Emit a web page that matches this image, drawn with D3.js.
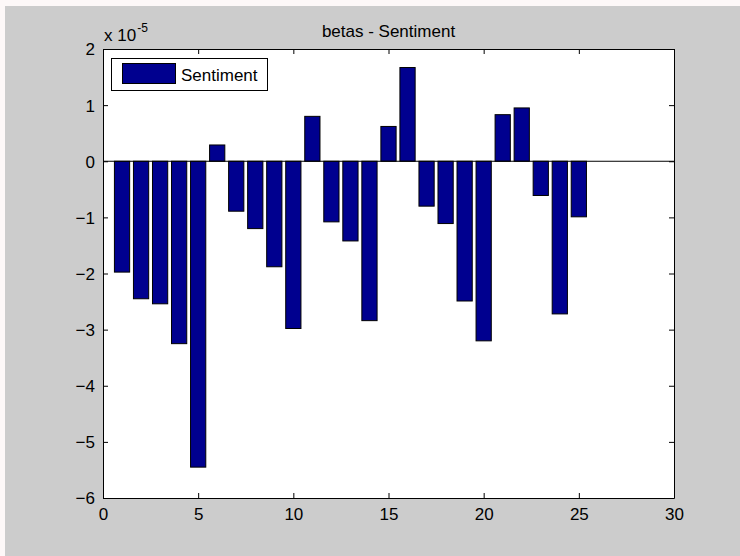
<!DOCTYPE html>
<html><head><meta charset="utf-8">
<script src="https://cdn.jsdelivr.net/npm/d3@7"></script>
<style>html,body{margin:0;padding:0;background:#cccccc;}svg{display:block;}</style>
</head><body>
<script>
const categories = d3.range(1, 26);
const values = [-1.975, -2.45, -2.54, -3.25, -5.45, 0.29, -0.89, -1.20, -1.88, -2.98,
                0.80, -1.08, -1.42, -2.84, 0.62, 1.67, -0.80, -1.11, -2.49, -3.20,
                0.83, 0.95, -0.61, -2.72, -0.99];
const xTicks = [0, 5, 10, 15, 20, 25, 30];
const yTicks = [-6, -5, -4, -3, -2, -1, 0, 1, 2];
const seriesName = "Sentiment";
const title = "betas - Sentiment";

const W = 740, H = 556;
const L = 103, R = 674, T = 49, B = 498;
const FONT = "Helvetica, Arial, 'Liberation Sans', sans-serif";
const svg = d3.select("body").append("svg").attr("width", W).attr("height", H)
  .style("font-family", FONT);
svg.append("rect").attr("width", W).attr("height", H).attr("fill", "#fdf8f8");
svg.append("rect").attr("x", 5).attr("y", 6).attr("width", W - 5).attr("height", H - 6).attr("fill", "#cccccc");

const x = d3.scaleLinear().domain([0, 30]).range([L, R]);
const y = d3.scaleLinear().domain([-6, 2]).range([B, T]);

svg.append("rect").attr("x", L).attr("y", T).attr("width", R - L).attr("height", B - T).attr("fill", "#fff");

const bw = 0.8;
svg.append("g").selectAll("rect").data(categories).join("rect")
  .attr("x", (d) => x(d - bw / 2))
  .attr("width", (d) => x(d + bw / 2) - x(d - bw / 2))
  .attr("y", (d, i) => y(Math.max(0, values[i])))
  .attr("height", (d, i) => Math.abs(y(values[i]) - y(0)))
  .attr("fill", "#00008f").attr("stroke", "#000").attr("stroke-width", 1);

svg.append("line").attr("x1", L).attr("x2", R).attr("y1", y(0)).attr("y2", y(0))
  .attr("stroke", "#000").attr("stroke-width", 1);

const tl = 5;
const xb = svg.append("g").attr("transform", `translate(0,${B})`)
  .call(d3.axisBottom(x).tickValues(xTicks).tickSizeInner(-tl).tickSizeOuter(0).tickPadding(8));
const xt = svg.append("g").attr("transform", `translate(0,${T})`)
  .call(d3.axisTop(x).tickValues(xTicks).tickSizeInner(-tl).tickSizeOuter(0).tickFormat(""));
const yl = svg.append("g").attr("transform", `translate(${L},0)`)
  .call(d3.axisLeft(y).tickValues(yTicks).tickSizeInner(-tl).tickSizeOuter(0).tickPadding(8));
const yr = svg.append("g").attr("transform", `translate(${R},0)`)
  .call(d3.axisRight(y).tickValues(yTicks).tickSizeInner(-tl).tickSizeOuter(0).tickFormat(""));
[xb, xt, yl, yr].forEach(g => {
  g.selectAll("path").attr("stroke", "#000");
  g.selectAll("line").attr("stroke", "#000");
  g.selectAll("text").attr("fill", "#000").style("font-size", "17px").style("font-family", FONT);
});
xb.selectAll("text").attr("dy", "0.8em");
yl.selectAll("text").attr("dy", "0.35em");

const ex = svg.append("text").attr("x", 104).attr("y", 41).attr("font-size", 17).attr("fill", "#000");
ex.append("tspan").text("x 10");
ex.append("tspan").attr("dx", 1).attr("dy", -9).attr("font-size", 12).text("-5");

svg.append("text").attr("x", (L + R) / 2 + 0).attr("y", 37).attr("text-anchor", "middle")
  .attr("font-size", 17).attr("fill", "#000").text(title);

const lg = svg.append("g");
lg.append("rect").attr("x", 111.5).attr("y", 58.5).attr("width", 156).attr("height", 32)
  .attr("fill", "#fff").attr("stroke", "#000");
lg.append("rect").attr("x", 122.5).attr("y", 63.5).attr("width", 53).attr("height", 20)
  .attr("fill", "#00008f").attr("stroke", "#000");
lg.append("text").attr("x", 181).attr("y", 81).attr("font-size", 17).attr("fill", "#000").text(seriesName);
</script>
</body></html>
